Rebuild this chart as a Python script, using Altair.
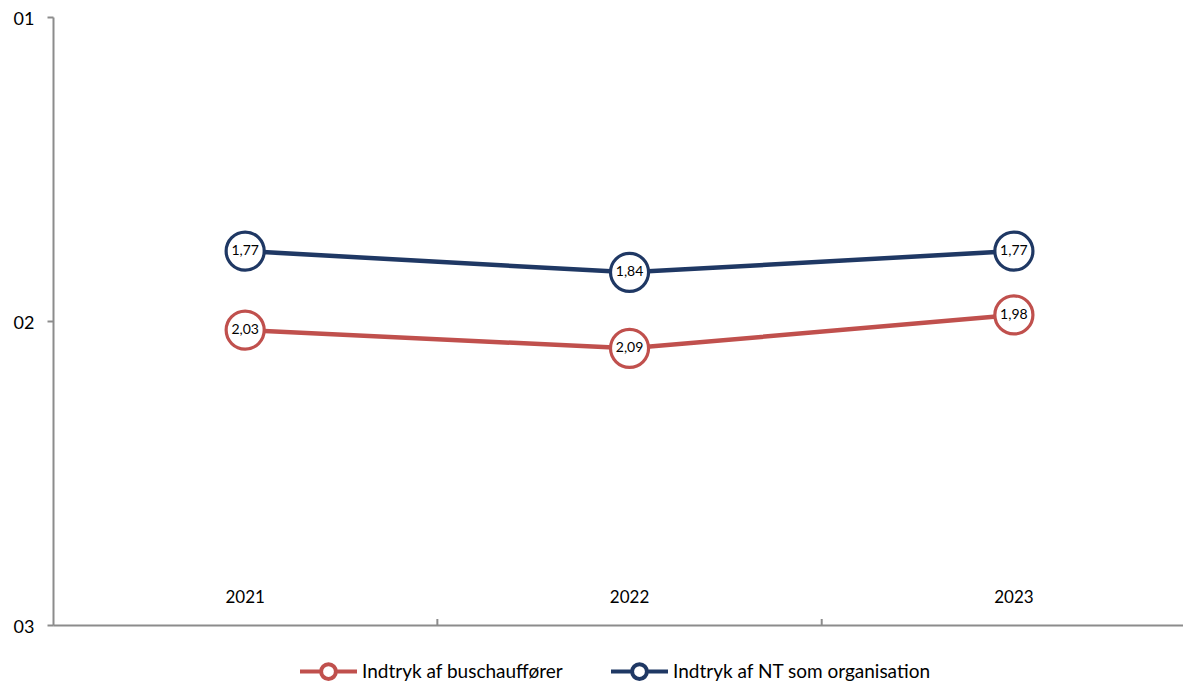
import altair as alt
import pandas as pd

years = [2021, 2022, 2023]
series_names = ["Indtryk af buschauffører", "Indtryk af NT som organisation"]
bus_values = [2.03, 2.09, 1.98]
nt_values = [1.77, 1.84, 1.77]
y_ticks = [1, 2, 3]
x_divider_ticks = [2021.5, 2022.5]
colors = ["#C0504D", "#1F3864"]

rows = []
for name, vals in zip(series_names, [bus_values, nt_values]):
    for yr, v in zip(years, vals):
        rows.append({"year": yr, "series": name, "value": v,
                     "label": f"{v:.2f}".replace(".", ",")})
df = pd.DataFrame(rows)
year_df = pd.DataFrame({"year": years, "txt": [str(y) for y in years]})
div_df = pd.DataFrame({"x": x_divider_ticks})

FONT = "Lato"
xscale = alt.Scale(domain=[2020.5, 2023.44], nice=False, zero=False)
yscale = alt.Scale(domain=[1, 3], reverse=True, nice=False, zero=False)
cscale = alt.Scale(domain=series_names, range=colors)

legend_path = ("M-1,0H-0.26M0.26,0H1M-0.26,0A0.26,0.26 0 1,0 0.26,0"
               "A0.26,0.26 0 1,0 -0.26,0Z")

x_enc = alt.X("year:Q", scale=xscale,
              axis=alt.Axis(values=[], title=None, grid=False, labels=False,
                            ticks=False, domainColor="#8c8c8c", domainWidth=2))
y_enc = alt.Y("value:Q", scale=yscale,
              axis=alt.Axis(values=y_ticks, title=None, grid=False,
                            labelExpr="'0' + datum.value", labelFont=FONT,
                            labelFontSize=18, labelColor="#000000",
                            labelPadding=13, labelOffset=2, tickSize=6,
                            tickColor="#8c8c8c", tickWidth=2,
                            domainColor="#8c8c8c", domainWidth=2))

base = alt.Chart(df)

lines = base.mark_line(strokeWidth=4.5).encode(
    x=x_enc, y=y_enc,
    color=alt.Color("series:N", scale=cscale, sort=series_names,
                    legend=alt.Legend(title=None, orient="none", direction="horizontal",
                                      legendX=245, legendY=624,
                                      symbolType=legend_path, symbolSize=3249,
                                      symbolStrokeWidth=4, symbolFillColor="white",
                                      labelFont=FONT, labelFontSize=19, labelLimit=0,
                                      labelColor="#000000", labelOffset=3,
                                      columnPadding=39)),
    detail="series:N",
)

points = base.mark_point(size=1450, filled=False, fill="white", fillOpacity=1,
                         strokeWidth=3.2, opacity=1).encode(
    x="year:Q", y="value:Q",
    stroke=alt.Stroke("series:N", scale=cscale, legend=None),
)

labels = base.mark_text(font=FONT, fontSize=14, color="#000000").encode(
    x="year:Q", y="value:Q", text="label:N",
)

year_text = alt.Chart(year_df).mark_text(font=FONT, fontSize=17, color="#000000",
                                         baseline="middle").encode(
    x="year:Q", y=alt.value(581), text="txt:N",
)

div_ticks = alt.Chart(div_df).mark_rule(color="#8c8c8c", strokeWidth=2).encode(
    x="x:Q", y=alt.value(602), y2=alt.value(608),
)

chart = alt.layer(lines, points, labels, year_text, div_ticks).properties(
    width=1130, height=608,
    background="white",
    autosize=alt.AutoSizeParams(type="none"),
    padding={"left": 45, "top": 9, "right": 0, "bottom": 59},
).configure_view(stroke=None)

chart.save("out.html", embed_options={"renderer": "svg", "actions": False})
